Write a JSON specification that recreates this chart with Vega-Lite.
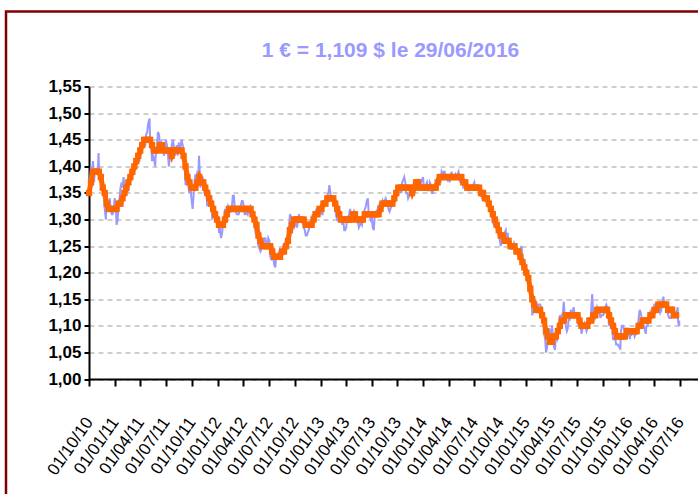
{
  "$schema": "https://vega.github.io/schema/vega-lite/v6.json",
  "width": 700,
  "height": 490,
  "autosize": {"type": "none"},
  "padding": {"left": 6, "top": 11.5, "right": 0, "bottom": 0},
  "background": "white",
  "config": {"view": {"stroke": "#800000", "strokeWidth": 2.5}},
  "title": {"text": "1 € = 1,109 $ le 29/06/2016", "color": "#9999FF", "font": "Liberation Sans", "fontSize": 21, "fontWeight": "bold", "anchor": "middle", "frame": "group", "baseline": "alphabetic", "offset": -66, "dx": 34.5},
  "datasets": {
    "blue": [
      {"d":"2010-10-01","v":1.365},{"d":"2010-10-05","v":1.38},{"d":"2010-10-08","v":1.395},{"d":"2010-10-12","v":1.39},{"d":"2010-10-15","v":1.41},{"d":"2010-10-19","v":1.37},{"d":"2010-10-22","v":1.395},{"d":"2010-10-26","v":1.385},{"d":"2010-10-29","v":1.395},{"d":"2010-11-02","v":1.40},{"d":"2010-11-04","v":1.425},{"d":"2010-11-05","v":1.405},{"d":"2010-11-09","v":1.38},{"d":"2010-11-12","v":1.37},{"d":"2010-11-16","v":1.355},{"d":"2010-11-19","v":1.37},{"d":"2010-11-23","v":1.34},{"d":"2010-11-26","v":1.32},{"d":"2010-11-30","v":1.30},{"d":"2010-12-03","v":1.34},{"d":"2010-12-07","v":1.325},{"d":"2010-12-10","v":1.32},{"d":"2010-12-14","v":1.34},{"d":"2010-12-17","v":1.32},{"d":"2010-12-21","v":1.31},{"d":"2010-12-24","v":1.31},{"d":"2010-12-28","v":1.32},{"d":"2010-12-31","v":1.34},
      {"d":"2011-01-04","v":1.33},{"d":"2011-01-07","v":1.29},{"d":"2011-01-11","v":1.30},{"d":"2011-01-14","v":1.335},{"d":"2011-01-18","v":1.34},{"d":"2011-01-21","v":1.36},{"d":"2011-01-25","v":1.37},{"d":"2011-01-28","v":1.36},{"d":"2011-02-01","v":1.38},{"d":"2011-02-04","v":1.36},{"d":"2011-02-08","v":1.36},{"d":"2011-02-11","v":1.355},{"d":"2011-02-15","v":1.35},{"d":"2011-02-18","v":1.37},{"d":"2011-02-22","v":1.37},{"d":"2011-02-25","v":1.38},{"d":"2011-03-01","v":1.38},{"d":"2011-03-04","v":1.40},{"d":"2011-03-08","v":1.39},{"d":"2011-03-11","v":1.39},{"d":"2011-03-15","v":1.40},{"d":"2011-03-18","v":1.42},{"d":"2011-03-22","v":1.42},{"d":"2011-03-25","v":1.41},{"d":"2011-03-29","v":1.41},{"d":"2011-04-01","v":1.42},{"d":"2011-04-05","v":1.425},{"d":"2011-04-08","v":1.445},{"d":"2011-04-12","v":1.45},{"d":"2011-04-15","v":1.44},{"d":"2011-04-19","v":1.44},{"d":"2011-04-22","v":1.46},{"d":"2011-04-26","v":1.465},{"d":"2011-04-29","v":1.48},{"d":"2011-05-04","v":1.49},{"d":"2011-05-06","v":1.455},{"d":"2011-05-10","v":1.44},{"d":"2011-05-13","v":1.41},{"d":"2011-05-17","v":1.42},{"d":"2011-05-20","v":1.415},{"d":"2011-05-24","v":1.40},{"d":"2011-05-27","v":1.43},{"d":"2011-05-31","v":1.44},{"d":"2011-06-03","v":1.465},{"d":"2011-06-07","v":1.46},{"d":"2011-06-10","v":1.44},{"d":"2011-06-14","v":1.445},{"d":"2011-06-17","v":1.43},{"d":"2011-06-21","v":1.44},{"d":"2011-06-24","v":1.42},{"d":"2011-06-28","v":1.43},{"d":"2011-07-01","v":1.45},{"d":"2011-07-05","v":1.44},{"d":"2011-07-08","v":1.425},{"d":"2011-07-12","v":1.40},{"d":"2011-07-15","v":1.415},{"d":"2011-07-19","v":1.415},{"d":"2011-07-22","v":1.44},{"d":"2011-07-26","v":1.45},{"d":"2011-07-29","v":1.44},{"d":"2011-08-02","v":1.42},{"d":"2011-08-05","v":1.43},{"d":"2011-08-09","v":1.44},{"d":"2011-08-12","v":1.42},{"d":"2011-08-16","v":1.445},{"d":"2011-08-19","v":1.435},{"d":"2011-08-23","v":1.44},{"d":"2011-08-26","v":1.45},{"d":"2011-08-30","v":1.44},{"d":"2011-09-02","v":1.42},{"d":"2011-09-06","v":1.40},{"d":"2011-09-09","v":1.365},{"d":"2011-09-13","v":1.37},{"d":"2011-09-16","v":1.38},{"d":"2011-09-20","v":1.36},{"d":"2011-09-23","v":1.35},{"d":"2011-09-27","v":1.36},{"d":"2011-09-30","v":1.34},{"d":"2011-10-04","v":1.32},{"d":"2011-10-07","v":1.34},{"d":"2011-10-11","v":1.37},{"d":"2011-10-14","v":1.385},{"d":"2011-10-18","v":1.375},{"d":"2011-10-21","v":1.39},{"d":"2011-10-25","v":1.39},{"d":"2011-10-27","v":1.42},{"d":"2011-11-01","v":1.36},{"d":"2011-11-04","v":1.38},{"d":"2011-11-08","v":1.38},{"d":"2011-11-11","v":1.375},{"d":"2011-11-15","v":1.35},{"d":"2011-11-18","v":1.35},{"d":"2011-11-22","v":1.35},{"d":"2011-11-25","v":1.325},{"d":"2011-11-29","v":1.335},{"d":"2011-12-02","v":1.345},{"d":"2011-12-06","v":1.34},{"d":"2011-12-09","v":1.34},{"d":"2011-12-13","v":1.30},{"d":"2011-12-16","v":1.305},{"d":"2011-12-20","v":1.31},{"d":"2011-12-23","v":1.305},{"d":"2011-12-27","v":1.305},{"d":"2011-12-30","v":1.295},
      {"d":"2012-01-03","v":1.305},{"d":"2012-01-06","v":1.275},{"d":"2012-01-10","v":1.28},{"d":"2012-01-13","v":1.265},{"d":"2012-01-17","v":1.275},{"d":"2012-01-20","v":1.29},{"d":"2012-01-24","v":1.30},{"d":"2012-01-27","v":1.32},{"d":"2012-01-31","v":1.31},{"d":"2012-02-03","v":1.315},{"d":"2012-02-07","v":1.325},{"d":"2012-02-10","v":1.32},{"d":"2012-02-14","v":1.315},{"d":"2012-02-17","v":1.315},{"d":"2012-02-21","v":1.325},{"d":"2012-02-24","v":1.345},{"d":"2012-02-28","v":1.345},{"d":"2012-03-02","v":1.32},{"d":"2012-03-06","v":1.315},{"d":"2012-03-09","v":1.31},{"d":"2012-03-13","v":1.31},{"d":"2012-03-16","v":1.31},{"d":"2012-03-20","v":1.32},{"d":"2012-03-23","v":1.325},{"d":"2012-03-27","v":1.335},{"d":"2012-03-30","v":1.335},{"d":"2012-04-03","v":1.325},{"d":"2012-04-06","v":1.31},{"d":"2012-04-10","v":1.31},{"d":"2012-04-13","v":1.315},{"d":"2012-04-17","v":1.31},{"d":"2012-04-20","v":1.32},{"d":"2012-04-24","v":1.32},{"d":"2012-04-27","v":1.325},{"d":"2012-05-01","v":1.32},{"d":"2012-05-04","v":1.31},{"d":"2012-05-08","v":1.30},{"d":"2012-05-11","v":1.29},{"d":"2012-05-15","v":1.275},{"d":"2012-05-18","v":1.275},{"d":"2012-05-22","v":1.265},{"d":"2012-05-25","v":1.25},{"d":"2012-05-29","v":1.245},{"d":"2012-06-01","v":1.24},{"d":"2012-06-05","v":1.245},{"d":"2012-06-08","v":1.25},{"d":"2012-06-12","v":1.25},{"d":"2012-06-15","v":1.265},{"d":"2012-06-19","v":1.265},{"d":"2012-06-22","v":1.255},{"d":"2012-06-26","v":1.25},{"d":"2012-06-29","v":1.265},{"d":"2012-07-03","v":1.26},{"d":"2012-07-06","v":1.23},{"d":"2012-07-10","v":1.225},{"d":"2012-07-13","v":1.225},{"d":"2012-07-17","v":1.23},{"d":"2012-07-20","v":1.215},{"d":"2012-07-24","v":1.21},{"d":"2012-07-27","v":1.23},{"d":"2012-07-31","v":1.23},{"d":"2012-08-03","v":1.235},{"d":"2012-08-07","v":1.24},{"d":"2012-08-10","v":1.23},{"d":"2012-08-14","v":1.23},{"d":"2012-08-17","v":1.235},{"d":"2012-08-21","v":1.25},{"d":"2012-08-24","v":1.25},{"d":"2012-08-28","v":1.255},{"d":"2012-08-31","v":1.26},{"d":"2012-09-04","v":1.26},{"d":"2012-09-07","v":1.28},{"d":"2012-09-11","v":1.285},{"d":"2012-09-14","v":1.31},{"d":"2012-09-18","v":1.305},{"d":"2012-09-21","v":1.30},{"d":"2012-09-25","v":1.29},{"d":"2012-09-28","v":1.285},{"d":"2012-10-02","v":1.29},{"d":"2012-10-05","v":1.305},{"d":"2012-10-09","v":1.285},{"d":"2012-10-12","v":1.295},{"d":"2012-10-16","v":1.31},{"d":"2012-10-19","v":1.30},{"d":"2012-10-23","v":1.30},{"d":"2012-10-26","v":1.295},{"d":"2012-10-30","v":1.295},{"d":"2012-11-02","v":1.285},{"d":"2012-11-06","v":1.28},{"d":"2012-11-09","v":1.27},{"d":"2012-11-13","v":1.27},{"d":"2012-11-16","v":1.275},{"d":"2012-11-20","v":1.28},{"d":"2012-11-23","v":1.295},{"d":"2012-11-27","v":1.295},{"d":"2012-11-30","v":1.30},{"d":"2012-12-04","v":1.31},{"d":"2012-12-07","v":1.29},{"d":"2012-12-11","v":1.30},{"d":"2012-12-14","v":1.315},{"d":"2012-12-18","v":1.32},{"d":"2012-12-21","v":1.32},{"d":"2012-12-25","v":1.32},{"d":"2012-12-28","v":1.32},
      {"d":"2013-01-01","v":1.32},{"d":"2013-01-04","v":1.31},{"d":"2013-01-08","v":1.31},{"d":"2013-01-11","v":1.335},{"d":"2013-01-15","v":1.335},{"d":"2013-01-18","v":1.33},{"d":"2013-01-22","v":1.33},{"d":"2013-01-25","v":1.345},{"d":"2013-01-29","v":1.35},{"d":"2013-02-01","v":1.365},{"d":"2013-02-05","v":1.35},{"d":"2013-02-08","v":1.335},{"d":"2013-02-12","v":1.345},{"d":"2013-02-15","v":1.335},{"d":"2013-02-19","v":1.335},{"d":"2013-02-22","v":1.32},{"d":"2013-02-26","v":1.305},{"d":"2013-03-01","v":1.30},{"d":"2013-03-05","v":1.305},{"d":"2013-03-08","v":1.30},{"d":"2013-03-12","v":1.30},{"d":"2013-03-15","v":1.305},{"d":"2013-03-19","v":1.29},{"d":"2013-03-22","v":1.30},{"d":"2013-03-26","v":1.28},{"d":"2013-03-29","v":1.28},{"d":"2013-04-02","v":1.285},{"d":"2013-04-05","v":1.30},{"d":"2013-04-09","v":1.305},{"d":"2013-04-12","v":1.31},{"d":"2013-04-16","v":1.32},{"d":"2013-04-19","v":1.305},{"d":"2013-04-23","v":1.30},{"d":"2013-04-26","v":1.305},{"d":"2013-04-30","v":1.315},{"d":"2013-05-03","v":1.31},{"d":"2013-05-07","v":1.31},{"d":"2013-05-10","v":1.295},{"d":"2013-05-14","v":1.295},{"d":"2013-05-17","v":1.285},{"d":"2013-05-21","v":1.29},{"d":"2013-05-24","v":1.295},{"d":"2013-05-28","v":1.29},{"d":"2013-05-31","v":1.30},{"d":"2013-06-04","v":1.31},{"d":"2013-06-07","v":1.32},{"d":"2013-06-11","v":1.325},{"d":"2013-06-14","v":1.335},{"d":"2013-06-18","v":1.34},{"d":"2013-06-21","v":1.31},{"d":"2013-06-25","v":1.31},{"d":"2013-06-28","v":1.30},{"d":"2013-07-02","v":1.305},{"d":"2013-07-05","v":1.285},{"d":"2013-07-09","v":1.28},{"d":"2013-07-12","v":1.305},{"d":"2013-07-16","v":1.315},{"d":"2013-07-19","v":1.315},{"d":"2013-07-23","v":1.32},{"d":"2013-07-26","v":1.325},{"d":"2013-07-30","v":1.33},{"d":"2013-08-02","v":1.325},{"d":"2013-08-06","v":1.33},{"d":"2013-08-09","v":1.335},{"d":"2013-08-13","v":1.325},{"d":"2013-08-16","v":1.335},{"d":"2013-08-20","v":1.34},{"d":"2013-08-23","v":1.335},{"d":"2013-08-27","v":1.335},{"d":"2013-08-30","v":1.32},{"d":"2013-09-03","v":1.315},{"d":"2013-09-06","v":1.32},{"d":"2013-09-10","v":1.325},{"d":"2013-09-13","v":1.33},{"d":"2013-09-17","v":1.335},{"d":"2013-09-20","v":1.355},{"d":"2013-09-24","v":1.35},{"d":"2013-09-27","v":1.355},{"d":"2013-10-01","v":1.355},{"d":"2013-10-04","v":1.36},{"d":"2013-10-08","v":1.36},{"d":"2013-10-11","v":1.355},{"d":"2013-10-15","v":1.35},{"d":"2013-10-18","v":1.37},{"d":"2013-10-22","v":1.375},{"d":"2013-10-25","v":1.38},{"d":"2013-10-29","v":1.37},{"d":"2013-11-01","v":1.35},{"d":"2013-11-05","v":1.35},{"d":"2013-11-08","v":1.34},{"d":"2013-11-12","v":1.345},{"d":"2013-11-15","v":1.35},{"d":"2013-11-19","v":1.355},{"d":"2013-11-22","v":1.355},{"d":"2013-11-26","v":1.355},{"d":"2013-11-29","v":1.36},{"d":"2013-12-03","v":1.355},{"d":"2013-12-06","v":1.37},{"d":"2013-12-10","v":1.375},{"d":"2013-12-13","v":1.375},{"d":"2013-12-17","v":1.375},{"d":"2013-12-20","v":1.365},{"d":"2013-12-24","v":1.37},{"d":"2013-12-27","v":1.375},{"d":"2013-12-31","v":1.38},
      {"d":"2014-01-03","v":1.36},{"d":"2014-01-07","v":1.36},{"d":"2014-01-10","v":1.365},{"d":"2014-01-14","v":1.37},{"d":"2014-01-17","v":1.355},{"d":"2014-01-21","v":1.355},{"d":"2014-01-24","v":1.37},{"d":"2014-01-28","v":1.365},{"d":"2014-01-31","v":1.35},{"d":"2014-02-04","v":1.35},{"d":"2014-02-07","v":1.36},{"d":"2014-02-11","v":1.365},{"d":"2014-02-14","v":1.37},{"d":"2014-02-18","v":1.375},{"d":"2014-02-21","v":1.37},{"d":"2014-02-25","v":1.37},{"d":"2014-02-28","v":1.38},{"d":"2014-03-04","v":1.375},{"d":"2014-03-07","v":1.39},{"d":"2014-03-11","v":1.385},{"d":"2014-03-14","v":1.39},{"d":"2014-03-18","v":1.39},{"d":"2014-03-21","v":1.38},{"d":"2014-03-25","v":1.38},{"d":"2014-03-28","v":1.375},{"d":"2014-04-01","v":1.38},{"d":"2014-04-04","v":1.37},{"d":"2014-04-08","v":1.38},{"d":"2014-04-11","v":1.39},{"d":"2014-04-15","v":1.38},{"d":"2014-04-18","v":1.38},{"d":"2014-04-22","v":1.38},{"d":"2014-04-25","v":1.385},{"d":"2014-04-29","v":1.38},{"d":"2014-05-02","v":1.385},{"d":"2014-05-06","v":1.39},{"d":"2014-05-09","v":1.375},{"d":"2014-05-13","v":1.37},{"d":"2014-05-16","v":1.37},{"d":"2014-05-20","v":1.37},{"d":"2014-05-23","v":1.36},{"d":"2014-05-27","v":1.36},{"d":"2014-05-30","v":1.36},{"d":"2014-06-03","v":1.36},{"d":"2014-06-06","v":1.365},{"d":"2014-06-10","v":1.355},{"d":"2014-06-13","v":1.355},{"d":"2014-06-17","v":1.355},{"d":"2014-06-20","v":1.36},{"d":"2014-06-24","v":1.36},{"d":"2014-06-27","v":1.365},{"d":"2014-07-01","v":1.37},{"d":"2014-07-04","v":1.36},{"d":"2014-07-08","v":1.36},{"d":"2014-07-11","v":1.36},{"d":"2014-07-15","v":1.36},{"d":"2014-07-18","v":1.35},{"d":"2014-07-22","v":1.345},{"d":"2014-07-25","v":1.345},{"d":"2014-07-29","v":1.34},{"d":"2014-08-01","v":1.34},{"d":"2014-08-05","v":1.34},{"d":"2014-08-08","v":1.34},{"d":"2014-08-12","v":1.335},{"d":"2014-08-15","v":1.34},{"d":"2014-08-19","v":1.33},{"d":"2014-08-22","v":1.325},{"d":"2014-08-26","v":1.32},{"d":"2014-08-29","v":1.315},{"d":"2014-09-02","v":1.31},{"d":"2014-09-05","v":1.295},{"d":"2014-09-09","v":1.29},{"d":"2014-09-12","v":1.295},{"d":"2014-09-16","v":1.295},{"d":"2014-09-19","v":1.285},{"d":"2014-09-23","v":1.285},{"d":"2014-09-26","v":1.27},{"d":"2014-09-30","v":1.26},{"d":"2014-10-03","v":1.25},{"d":"2014-10-07","v":1.265},{"d":"2014-10-10","v":1.265},{"d":"2014-10-14","v":1.265},{"d":"2014-10-17","v":1.275},{"d":"2014-10-21","v":1.28},{"d":"2014-10-24","v":1.265},{"d":"2014-10-28","v":1.275},{"d":"2014-10-31","v":1.25},{"d":"2014-11-04","v":1.25},{"d":"2014-11-07","v":1.245},{"d":"2014-11-11","v":1.245},{"d":"2014-11-14","v":1.25},{"d":"2014-11-18","v":1.255},{"d":"2014-11-21","v":1.24},{"d":"2014-11-25","v":1.245},{"d":"2014-11-28","v":1.245},{"d":"2014-12-02","v":1.24},{"d":"2014-12-05","v":1.23},{"d":"2014-12-09","v":1.24},{"d":"2014-12-12","v":1.245},{"d":"2014-12-16","v":1.25},{"d":"2014-12-19","v":1.225},{"d":"2014-12-23","v":1.22},{"d":"2014-12-26","v":1.22},{"d":"2014-12-30","v":1.215},
      {"d":"2015-01-02","v":1.20},{"d":"2015-01-06","v":1.19},{"d":"2015-01-09","v":1.185},{"d":"2015-01-13","v":1.18},{"d":"2015-01-16","v":1.16},{"d":"2015-01-20","v":1.16},{"d":"2015-01-23","v":1.12},{"d":"2015-01-27","v":1.13},{"d":"2015-01-30","v":1.13},{"d":"2015-02-03","v":1.15},{"d":"2015-02-06","v":1.135},{"d":"2015-02-10","v":1.13},{"d":"2015-02-13","v":1.14},{"d":"2015-02-17","v":1.14},{"d":"2015-02-20","v":1.14},{"d":"2015-02-24","v":1.135},{"d":"2015-02-27","v":1.12},{"d":"2015-03-03","v":1.115},{"d":"2015-03-06","v":1.085},{"d":"2015-03-10","v":1.075},{"d":"2015-03-13","v":1.05},{"d":"2015-03-17","v":1.06},{"d":"2015-03-20","v":1.08},{"d":"2015-03-24","v":1.095},{"d":"2015-03-27","v":1.09},{"d":"2015-03-31","v":1.075},{"d":"2015-04-03","v":1.10},{"d":"2015-04-07","v":1.08},{"d":"2015-04-10","v":1.06},{"d":"2015-04-14","v":1.055},{"d":"2015-04-17","v":1.08},{"d":"2015-04-21","v":1.075},{"d":"2015-04-24","v":1.085},{"d":"2015-04-28","v":1.10},{"d":"2015-05-01","v":1.12},{"d":"2015-05-05","v":1.115},{"d":"2015-05-08","v":1.12},{"d":"2015-05-12","v":1.125},{"d":"2015-05-15","v":1.145},{"d":"2015-05-19","v":1.115},{"d":"2015-05-22","v":1.10},{"d":"2015-05-26","v":1.09},{"d":"2015-05-29","v":1.095},{"d":"2015-06-02","v":1.115},{"d":"2015-06-05","v":1.11},{"d":"2015-06-09","v":1.13},{"d":"2015-06-12","v":1.125},{"d":"2015-06-16","v":1.125},{"d":"2015-06-19","v":1.135},{"d":"2015-06-23","v":1.12},{"d":"2015-06-26","v":1.12},{"d":"2015-06-30","v":1.115},{"d":"2015-07-03","v":1.11},{"d":"2015-07-07","v":1.10},{"d":"2015-07-10","v":1.115},{"d":"2015-07-14","v":1.10},{"d":"2015-07-17","v":1.085},{"d":"2015-07-21","v":1.095},{"d":"2015-07-24","v":1.10},{"d":"2015-07-28","v":1.105},{"d":"2015-07-31","v":1.10},{"d":"2015-08-04","v":1.09},{"d":"2015-08-07","v":1.095},{"d":"2015-08-11","v":1.105},{"d":"2015-08-14","v":1.11},{"d":"2015-08-18","v":1.105},{"d":"2015-08-21","v":1.135},{"d":"2015-08-24","v":1.16},{"d":"2015-08-28","v":1.12},{"d":"2015-09-01","v":1.13},{"d":"2015-09-04","v":1.115},{"d":"2015-09-08","v":1.12},{"d":"2015-09-11","v":1.135},{"d":"2015-09-15","v":1.13},{"d":"2015-09-18","v":1.13},{"d":"2015-09-22","v":1.115},{"d":"2015-09-25","v":1.12},{"d":"2015-09-29","v":1.12},{"d":"2015-10-02","v":1.12},{"d":"2015-10-06","v":1.125},{"d":"2015-10-09","v":1.135},{"d":"2015-10-13","v":1.14},{"d":"2015-10-16","v":1.135},{"d":"2015-10-20","v":1.135},{"d":"2015-10-23","v":1.10},{"d":"2015-10-27","v":1.105},{"d":"2015-10-30","v":1.10},{"d":"2015-11-03","v":1.095},{"d":"2015-11-06","v":1.075},{"d":"2015-11-10","v":1.075},{"d":"2015-11-13","v":1.08},{"d":"2015-11-17","v":1.065},{"d":"2015-11-20","v":1.065},{"d":"2015-11-24","v":1.065},{"d":"2015-11-27","v":1.06},{"d":"2015-12-01","v":1.06},{"d":"2015-12-02","v":1.055},{"d":"2015-12-04","v":1.09},{"d":"2015-12-08","v":1.10},{"d":"2015-12-11","v":1.10},{"d":"2015-12-15","v":1.095},{"d":"2015-12-18","v":1.085},{"d":"2015-12-22","v":1.095},{"d":"2015-12-25","v":1.095},{"d":"2015-12-29","v":1.095},
      {"d":"2016-01-01","v":1.085},{"d":"2016-01-05","v":1.075},{"d":"2016-01-08","v":1.09},{"d":"2016-01-12","v":1.085},{"d":"2016-01-15","v":1.09},{"d":"2016-01-19","v":1.09},{"d":"2016-01-22","v":1.08},{"d":"2016-01-26","v":1.085},{"d":"2016-01-29","v":1.085},{"d":"2016-02-02","v":1.09},{"d":"2016-02-05","v":1.115},{"d":"2016-02-09","v":1.13},{"d":"2016-02-12","v":1.125},{"d":"2016-02-16","v":1.115},{"d":"2016-02-19","v":1.11},{"d":"2016-02-23","v":1.10},{"d":"2016-02-26","v":1.095},{"d":"2016-03-01","v":1.085},{"d":"2016-03-04","v":1.10},{"d":"2016-03-08","v":1.10},{"d":"2016-03-11","v":1.115},{"d":"2016-03-15","v":1.11},{"d":"2016-03-18","v":1.125},{"d":"2016-03-22","v":1.12},{"d":"2016-03-25","v":1.115},{"d":"2016-03-29","v":1.13},{"d":"2016-04-01","v":1.14},{"d":"2016-04-05","v":1.14},{"d":"2016-04-08","v":1.14},{"d":"2016-04-12","v":1.14},{"d":"2016-04-15","v":1.13},{"d":"2016-04-19","v":1.135},{"d":"2016-04-22","v":1.125},{"d":"2016-04-26","v":1.13},{"d":"2016-04-29","v":1.145},{"d":"2016-05-03","v":1.155},{"d":"2016-05-06","v":1.14},{"d":"2016-05-10","v":1.14},{"d":"2016-05-13","v":1.13},{"d":"2016-05-17","v":1.13},{"d":"2016-05-20","v":1.12},{"d":"2016-05-24","v":1.115},{"d":"2016-05-27","v":1.115},{"d":"2016-05-31","v":1.115},{"d":"2016-06-03","v":1.135},{"d":"2016-06-07","v":1.135},{"d":"2016-06-10","v":1.125},{"d":"2016-06-14","v":1.12},{"d":"2016-06-17","v":1.125},{"d":"2016-06-21","v":1.13},{"d":"2016-06-23","v":1.135},{"d":"2016-06-24","v":1.11},{"d":"2016-06-27","v":1.10},{"d":"2016-06-28","v":1.11},{"d":"2016-06-29","v":1.10}
    ],
    "orange": [
      {"d":"2010-10-01","v":1.35},{"d":"2010-10-08","v":1.37},{"d":"2010-10-15","v":1.39},{"d":"2010-10-22","v":1.39},{"d":"2010-10-29","v":1.39},{"d":"2010-11-05","v":1.39},{"d":"2010-11-12","v":1.38},{"d":"2010-11-19","v":1.36},{"d":"2010-11-26","v":1.35},{"d":"2010-12-03","v":1.33},{"d":"2010-12-10","v":1.32},{"d":"2010-12-17","v":1.32},{"d":"2010-12-24","v":1.32},{"d":"2010-12-31","v":1.32},
      {"d":"2011-01-07","v":1.32},{"d":"2011-01-14","v":1.33},{"d":"2011-01-21","v":1.33},{"d":"2011-01-28","v":1.34},{"d":"2011-02-04","v":1.35},{"d":"2011-02-11","v":1.36},{"d":"2011-02-18","v":1.37},{"d":"2011-02-25","v":1.38},{"d":"2011-03-04","v":1.39},{"d":"2011-03-11","v":1.40},{"d":"2011-03-18","v":1.41},{"d":"2011-03-25","v":1.42},{"d":"2011-04-01","v":1.43},{"d":"2011-04-08","v":1.44},{"d":"2011-04-15","v":1.45},{"d":"2011-04-22","v":1.45},{"d":"2011-04-29","v":1.45},{"d":"2011-05-06","v":1.45},{"d":"2011-05-13","v":1.44},{"d":"2011-05-20","v":1.43},{"d":"2011-05-27","v":1.43},{"d":"2011-06-03","v":1.43},{"d":"2011-06-10","v":1.44},{"d":"2011-06-17","v":1.44},{"d":"2011-06-24","v":1.43},{"d":"2011-07-01","v":1.43},{"d":"2011-07-08","v":1.43},{"d":"2011-07-15","v":1.43},{"d":"2011-07-22","v":1.42},{"d":"2011-07-29","v":1.43},{"d":"2011-08-05","v":1.43},{"d":"2011-08-12","v":1.43},{"d":"2011-08-19","v":1.43},{"d":"2011-08-26","v":1.43},{"d":"2011-09-02","v":1.42},{"d":"2011-09-09","v":1.40},{"d":"2011-09-16","v":1.38},{"d":"2011-09-23","v":1.37},{"d":"2011-09-30","v":1.36},{"d":"2011-10-07","v":1.36},{"d":"2011-10-14","v":1.36},{"d":"2011-10-21","v":1.37},{"d":"2011-10-28","v":1.38},{"d":"2011-11-04","v":1.37},{"d":"2011-11-11","v":1.37},{"d":"2011-11-18","v":1.36},{"d":"2011-11-25","v":1.35},{"d":"2011-12-02","v":1.34},{"d":"2011-12-09","v":1.33},{"d":"2011-12-16","v":1.32},{"d":"2011-12-23","v":1.31},{"d":"2011-12-30","v":1.30},
      {"d":"2012-01-06","v":1.29},{"d":"2012-01-13","v":1.29},{"d":"2012-01-20","v":1.29},{"d":"2012-01-27","v":1.30},{"d":"2012-02-03","v":1.31},{"d":"2012-02-10","v":1.32},{"d":"2012-02-17","v":1.32},{"d":"2012-02-24","v":1.32},{"d":"2012-03-02","v":1.32},{"d":"2012-03-09","v":1.32},{"d":"2012-03-16","v":1.32},{"d":"2012-03-23","v":1.32},{"d":"2012-03-30","v":1.32},{"d":"2012-04-06","v":1.32},{"d":"2012-04-13","v":1.32},{"d":"2012-04-20","v":1.32},{"d":"2012-04-27","v":1.32},{"d":"2012-05-04","v":1.31},{"d":"2012-05-11","v":1.30},{"d":"2012-05-18","v":1.29},{"d":"2012-05-25","v":1.27},{"d":"2012-06-01","v":1.26},{"d":"2012-06-08","v":1.25},{"d":"2012-06-15","v":1.25},{"d":"2012-06-22","v":1.25},{"d":"2012-06-29","v":1.25},{"d":"2012-07-06","v":1.25},{"d":"2012-07-13","v":1.24},{"d":"2012-07-20","v":1.23},{"d":"2012-07-27","v":1.23},{"d":"2012-08-03","v":1.23},{"d":"2012-08-10","v":1.23},{"d":"2012-08-17","v":1.24},{"d":"2012-08-24","v":1.24},{"d":"2012-08-31","v":1.25},{"d":"2012-09-07","v":1.26},{"d":"2012-09-14","v":1.28},{"d":"2012-09-21","v":1.29},{"d":"2012-09-28","v":1.30},{"d":"2012-10-05","v":1.30},{"d":"2012-10-12","v":1.30},{"d":"2012-10-19","v":1.30},{"d":"2012-10-26","v":1.30},{"d":"2012-11-02","v":1.30},{"d":"2012-11-09","v":1.29},{"d":"2012-11-16","v":1.29},{"d":"2012-11-23","v":1.29},{"d":"2012-11-30","v":1.29},{"d":"2012-12-07","v":1.30},{"d":"2012-12-14","v":1.31},{"d":"2012-12-21","v":1.31},{"d":"2012-12-28","v":1.32},
      {"d":"2013-01-04","v":1.32},{"d":"2013-01-11","v":1.33},{"d":"2013-01-18","v":1.33},{"d":"2013-01-25","v":1.34},{"d":"2013-02-01","v":1.34},{"d":"2013-02-08","v":1.34},{"d":"2013-02-15","v":1.34},{"d":"2013-02-22","v":1.33},{"d":"2013-03-01","v":1.32},{"d":"2013-03-08","v":1.31},{"d":"2013-03-15","v":1.30},{"d":"2013-03-22","v":1.30},{"d":"2013-03-29","v":1.30},{"d":"2013-04-05","v":1.30},{"d":"2013-04-12","v":1.30},{"d":"2013-04-19","v":1.30},{"d":"2013-04-26","v":1.31},{"d":"2013-05-03","v":1.31},{"d":"2013-05-10","v":1.30},{"d":"2013-05-17","v":1.30},{"d":"2013-05-24","v":1.30},{"d":"2013-05-31","v":1.30},{"d":"2013-06-07","v":1.31},{"d":"2013-06-14","v":1.31},{"d":"2013-06-21","v":1.31},{"d":"2013-06-28","v":1.31},{"d":"2013-07-05","v":1.31},{"d":"2013-07-12","v":1.31},{"d":"2013-07-19","v":1.31},{"d":"2013-07-26","v":1.31},{"d":"2013-08-02","v":1.32},{"d":"2013-08-09","v":1.33},{"d":"2013-08-16","v":1.33},{"d":"2013-08-23","v":1.33},{"d":"2013-08-30","v":1.33},{"d":"2013-09-06","v":1.33},{"d":"2013-09-13","v":1.33},{"d":"2013-09-20","v":1.34},{"d":"2013-09-27","v":1.35},{"d":"2013-10-04","v":1.36},{"d":"2013-10-11","v":1.36},{"d":"2013-10-18","v":1.36},{"d":"2013-10-25","v":1.36},{"d":"2013-11-01","v":1.36},{"d":"2013-11-08","v":1.36},{"d":"2013-11-15","v":1.36},{"d":"2013-11-22","v":1.35},{"d":"2013-11-29","v":1.36},{"d":"2013-12-06","v":1.37},{"d":"2013-12-13","v":1.37},{"d":"2013-12-20","v":1.36},{"d":"2013-12-27","v":1.36},
      {"d":"2014-01-03","v":1.36},{"d":"2014-01-10","v":1.36},{"d":"2014-01-17","v":1.36},{"d":"2014-01-24","v":1.36},{"d":"2014-01-31","v":1.36},{"d":"2014-02-07","v":1.36},{"d":"2014-02-14","v":1.36},{"d":"2014-02-21","v":1.37},{"d":"2014-02-28","v":1.38},{"d":"2014-03-07","v":1.38},{"d":"2014-03-14","v":1.38},{"d":"2014-03-21","v":1.38},{"d":"2014-03-28","v":1.38},{"d":"2014-04-04","v":1.38},{"d":"2014-04-11","v":1.38},{"d":"2014-04-18","v":1.38},{"d":"2014-04-25","v":1.38},{"d":"2014-05-02","v":1.38},{"d":"2014-05-09","v":1.38},{"d":"2014-05-16","v":1.38},{"d":"2014-05-23","v":1.37},{"d":"2014-05-30","v":1.37},{"d":"2014-06-06","v":1.36},{"d":"2014-06-13","v":1.36},{"d":"2014-06-20","v":1.36},{"d":"2014-06-27","v":1.36},{"d":"2014-07-04","v":1.36},{"d":"2014-07-11","v":1.36},{"d":"2014-07-18","v":1.36},{"d":"2014-07-25","v":1.35},{"d":"2014-08-01","v":1.35},{"d":"2014-08-08","v":1.34},{"d":"2014-08-15","v":1.34},{"d":"2014-08-22","v":1.33},{"d":"2014-08-29","v":1.32},{"d":"2014-09-05","v":1.31},{"d":"2014-09-12","v":1.30},{"d":"2014-09-19","v":1.29},{"d":"2014-09-26","v":1.28},{"d":"2014-10-03","v":1.27},{"d":"2014-10-10","v":1.27},{"d":"2014-10-17","v":1.26},{"d":"2014-10-24","v":1.26},{"d":"2014-10-31","v":1.26},{"d":"2014-11-07","v":1.25},{"d":"2014-11-14","v":1.25},{"d":"2014-11-21","v":1.25},{"d":"2014-11-28","v":1.24},{"d":"2014-12-05","v":1.24},{"d":"2014-12-12","v":1.23},{"d":"2014-12-19","v":1.22},{"d":"2014-12-26","v":1.21},
      {"d":"2015-01-02","v":1.20},{"d":"2015-01-09","v":1.19},{"d":"2015-01-16","v":1.17},{"d":"2015-01-23","v":1.15},{"d":"2015-01-30","v":1.14},{"d":"2015-02-06","v":1.13},{"d":"2015-02-13","v":1.13},{"d":"2015-02-20","v":1.13},{"d":"2015-02-27","v":1.12},{"d":"2015-03-06","v":1.11},{"d":"2015-03-13","v":1.09},{"d":"2015-03-20","v":1.08},{"d":"2015-03-27","v":1.07},{"d":"2015-04-03","v":1.07},{"d":"2015-04-10","v":1.08},{"d":"2015-04-17","v":1.08},{"d":"2015-04-24","v":1.09},{"d":"2015-05-01","v":1.10},{"d":"2015-05-08","v":1.11},{"d":"2015-05-15","v":1.11},{"d":"2015-05-22","v":1.12},{"d":"2015-05-29","v":1.12},{"d":"2015-06-05","v":1.12},{"d":"2015-06-12","v":1.12},{"d":"2015-06-19","v":1.12},{"d":"2015-06-26","v":1.12},{"d":"2015-07-03","v":1.12},{"d":"2015-07-10","v":1.11},{"d":"2015-07-17","v":1.10},{"d":"2015-07-24","v":1.10},{"d":"2015-07-31","v":1.10},{"d":"2015-08-07","v":1.10},{"d":"2015-08-14","v":1.11},{"d":"2015-08-21","v":1.11},{"d":"2015-08-28","v":1.12},{"d":"2015-09-04","v":1.12},{"d":"2015-09-11","v":1.13},{"d":"2015-09-18","v":1.13},{"d":"2015-09-25","v":1.13},{"d":"2015-10-02","v":1.13},{"d":"2015-10-09","v":1.13},{"d":"2015-10-16","v":1.13},{"d":"2015-10-23","v":1.12},{"d":"2015-10-30","v":1.11},{"d":"2015-11-06","v":1.10},{"d":"2015-11-13","v":1.09},{"d":"2015-11-20","v":1.08},{"d":"2015-11-27","v":1.08},{"d":"2015-12-04","v":1.08},{"d":"2015-12-11","v":1.08},{"d":"2015-12-18","v":1.08},{"d":"2015-12-25","v":1.09},
      {"d":"2016-01-01","v":1.09},{"d":"2016-01-08","v":1.09},{"d":"2016-01-15","v":1.09},{"d":"2016-01-22","v":1.09},{"d":"2016-01-29","v":1.09},{"d":"2016-02-05","v":1.10},{"d":"2016-02-12","v":1.10},{"d":"2016-02-19","v":1.11},{"d":"2016-02-26","v":1.11},{"d":"2016-03-04","v":1.11},{"d":"2016-03-11","v":1.11},{"d":"2016-03-18","v":1.12},{"d":"2016-03-25","v":1.12},{"d":"2016-04-01","v":1.13},{"d":"2016-04-08","v":1.13},{"d":"2016-04-15","v":1.14},{"d":"2016-04-22","v":1.14},{"d":"2016-04-29","v":1.14},{"d":"2016-05-06","v":1.14},{"d":"2016-05-13","v":1.14},{"d":"2016-05-20","v":1.13},{"d":"2016-05-27","v":1.13},{"d":"2016-06-03","v":1.13},{"d":"2016-06-10","v":1.12},{"d":"2016-06-17","v":1.12}
    ]
  },
  "encoding": {
    "x": {
      "field": "d", "type": "temporal",
      "scale": {"type": "utc", "domain": [{"year": 2010, "month": 10, "date": 1, "utc": true}, {"year": 2016, "month": 9, "date": 3, "utc": true}], "range": [83, 692]},
      "axis": {
        "title": null, "grid": false, "offset": -122.5,
        "values": [
          {"year":2010,"month":10,"date":1,"utc":true},{"year":2011,"month":1,"date":1,"utc":true},{"year":2011,"month":4,"date":1,"utc":true},{"year":2011,"month":7,"date":1,"utc":true},{"year":2011,"month":10,"date":1,"utc":true},
          {"year":2012,"month":1,"date":1,"utc":true},{"year":2012,"month":4,"date":1,"utc":true},{"year":2012,"month":7,"date":1,"utc":true},{"year":2012,"month":10,"date":1,"utc":true},
          {"year":2013,"month":1,"date":1,"utc":true},{"year":2013,"month":4,"date":1,"utc":true},{"year":2013,"month":7,"date":1,"utc":true},{"year":2013,"month":10,"date":1,"utc":true},
          {"year":2014,"month":1,"date":1,"utc":true},{"year":2014,"month":4,"date":1,"utc":true},{"year":2014,"month":7,"date":1,"utc":true},{"year":2014,"month":10,"date":1,"utc":true},
          {"year":2015,"month":1,"date":1,"utc":true},{"year":2015,"month":4,"date":1,"utc":true},{"year":2015,"month":7,"date":1,"utc":true},{"year":2015,"month":10,"date":1,"utc":true},
          {"year":2016,"month":1,"date":1,"utc":true},{"year":2016,"month":4,"date":1,"utc":true},{"year":2016,"month":7,"date":1,"utc":true}
        ],
        "labelExpr": "utcFormat(datum.value, '%d/%m/%y')",
        "labelAngle": -55, "labelAlign": "right", "labelBaseline": "middle", "labelPadding": 33,
        "labelFont": "Liberation Sans", "labelFontSize": 17, "labelColor": "black",
        "labelOverlap": false, "labelBound": false, "labelFlush": false,
        "tickSize": 7, "tickWidth": 2, "tickColor": "black",
        "domainColor": "black", "domainWidth": 2
      }
    },
    "y": {
      "field": "v", "type": "quantitative",
      "scale": {"domain": [1.0, 1.55], "range": [367.5, 75.2], "nice": false, "zero": false},
      "axis": {
        "title": null, "offset": -83,
        "values": [1.0, 1.05, 1.1, 1.15, 1.2, 1.25, 1.3, 1.35, 1.4, 1.45, 1.5, 1.55],
        "labelExpr": "replace(format(datum.value, '.2f'), '.', ',')",
        "labelFont": "Liberation Sans", "labelFontSize": 17, "labelFontWeight": "bold", "labelColor": "black", "labelPadding": 3,
        "tickSize": 5, "tickWidth": 2, "tickColor": "black",
        "domainColor": "black", "domainWidth": 2,
        "grid": true, "gridColor": "#BFBFBF", "gridDash": [5, 4], "gridWidth": 1.5
      }
    }
  },
  "layer": [
    {"data": {"name": "blue"}, "mark": {"type": "line", "color": "#9999FF", "strokeWidth": 2}},
    {"data": {"name": "orange"}, "mark": {"type": "line", "color": "#FF6600", "strokeWidth": 5, "point": {"shape": "square", "size": 40, "filled": true, "color": "#FF6600"}}}
  ]
}
